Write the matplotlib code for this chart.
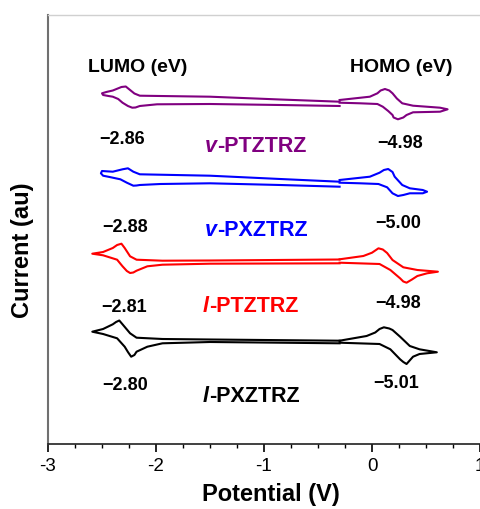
import numpy as np
import matplotlib
matplotlib.use('Agg')
import matplotlib.pyplot as plt
from matplotlib.ticker import MultipleLocator, FuncFormatter

plt.rcParams['font.family'] = 'Liberation Sans'
plt.rcParams['axes.unicode_minus'] = False

# v-PTZTRZ (purple)
ptz_v_red_x = [-0.30, -0.85, -1.50, -1.96, -2.15, -2.20, -2.24, -2.28, -2.32, -2.40, -2.46, -2.50,
               -2.49, -2.44, -2.40, -2.35, -2.31, -2.26, -2.22, -2.19, -2.15, -1.99, -1.50, -0.85, -0.30]
ptz_v_red_i = [342.3, 344.5, 347.3, 348.0, 348.3, 350.5, 354.0, 357.5, 357.0, 353.5, 352.0, 350.7,
               349.0, 348.0, 347.3, 345.0, 341.3, 338.0, 336.3, 336.5, 338.0, 339.7, 340.0, 339.0, 338.0]
ptz_v_ox_x = [-0.30, -0.02, 0.05, 0.08, 0.12, 0.16, 0.19, 0.23, 0.28, 0.38, 0.63, 0.70,
              0.63, 0.38, 0.32, 0.29, 0.24, 0.20, 0.19, 0.15, 0.10, 0.05, -0.11, -0.30]
ptz_v_ox_i = [344.0, 347.3, 350.7, 353.5, 355.0, 353.5, 350.7, 345.5, 340.7, 338.3, 336.3, 334.7,
              332.3, 331.7, 329.0, 326.5, 324.7, 326.5, 329.0, 333.0, 337.3, 340.0, 340.7, 341.3]

# v-PXZTRZ (blue)
pxz_v_red_x = [-0.30, -0.85, -1.50, -2.06, -2.15, -2.21, -2.26, -2.31, -2.40, -2.50, -2.51,
               -2.49, -2.43, -2.33, -2.27, -2.21, -2.18, -2.15, -1.96, -1.50, -0.85, -0.30]
pxz_v_red_i = [262.3, 265.0, 268.3, 269.5, 269.7, 272.3, 275.7, 274.7, 272.3, 273.0, 270.7,
               268.3, 267.0, 264.7, 261.3, 258.3, 258.5, 259.0, 260.0, 260.7, 259.0, 257.3]
pxz_v_ox_x = [-0.30, -0.02, 0.07, 0.11, 0.15, 0.19, 0.21, 0.28, 0.35, 0.47, 0.51,
              0.47, 0.35, 0.29, 0.24, 0.19, 0.14, 0.06, -0.11, -0.30]
pxz_v_ox_i = [264.0, 267.3, 271.3, 274.0, 275.0, 272.0, 267.3, 259.0, 255.7, 254.0, 252.3,
              250.7, 250.7, 249.0, 248.0, 250.7, 256.7, 260.0, 260.7, 261.3]

# l-PTZTRZ (red)
ptz_l_red_x = [-0.30, -1.50, -1.94, -2.18, -2.24, -2.29, -2.32, -2.36, -2.40, -2.49, -2.59,
               -2.49, -2.36, -2.31, -2.27, -2.24, -2.21, -2.18, -2.08, -1.94, -1.50, -0.30]
ptz_l_red_i = [184.5, 183.5, 183.3, 184.3, 187.7, 196.0, 200.3, 199.0, 196.0, 192.0, 190.3,
               188.7, 184.3, 177.7, 173.0, 171.0, 171.5, 173.3, 177.7, 179.3, 180.3, 180.7]
ptz_l_ox_x = [-0.30, -0.08, 0.00, 0.06, 0.10, 0.14, 0.19, 0.29, 0.42, 0.61,
              0.51, 0.42, 0.37, 0.32, 0.29, 0.26, 0.17, 0.07, -0.30]
ptz_l_ox_i = [184.7, 188.0, 191.3, 195.7, 194.5, 191.0, 184.0, 176.7, 174.0, 172.3,
              170.7, 168.0, 164.5, 161.3, 162.5, 165.7, 174.0, 180.0, 181.3]

# l-PXZTRZ (black)
pxz_l_red_x = [-0.30, -1.50, -1.94, -2.18, -2.24, -2.31, -2.34, -2.37, -2.40, -2.49, -2.59,
               -2.49, -2.36, -2.29, -2.26, -2.23, -2.20, -2.18, -2.08, -1.94, -1.50, -0.30]
pxz_l_red_i = [103.3, 104.5, 105.0, 106.3, 110.7, 119.7, 123.5, 122.0, 119.7, 115.0, 112.3,
               110.0, 105.7, 97.3, 92.0, 87.3, 89.0, 92.3, 97.3, 100.7, 102.0, 100.7]
pxz_l_ox_x = [-0.30, -0.05, 0.03, 0.07, 0.11, 0.16, 0.19, 0.26, 0.35, 0.44, 0.60,
              0.44, 0.38, 0.32, 0.29, 0.26, 0.17, 0.07, -0.30]
pxz_l_ox_i = [103.3, 108.0, 111.5, 115.0, 116.7, 115.5, 114.0, 107.3, 98.0, 94.7, 91.7,
              90.0, 87.3, 80.0, 82.0, 84.7, 94.7, 100.0, 101.3]

names = ['PTZTRZ', 'PXZTRZ', 'PTZTRZ', 'PXZTRZ']
prefixes = ['v', 'v', 'l', 'l']
colors = ['#800080', '#0000ff', '#ff0000', '#000000']
lumo = ['\u22122.86', '\u22122.88', '\u22122.81', '\u22122.80']
homo = ['\u22124.98', '\u22125.00', '\u22124.98', '\u22125.01']

curves = [(ptz_v_red_x, ptz_v_red_i, ptz_v_ox_x, ptz_v_ox_i),
          (pxz_v_red_x, pxz_v_red_i, pxz_v_ox_x, pxz_v_ox_i),
          (ptz_l_red_x, ptz_l_red_i, ptz_l_ox_x, ptz_l_ox_i),
          (pxz_l_red_x, pxz_l_red_i, pxz_l_ox_x, pxz_l_ox_i)]

# label positions (x in V, y in au)
lumo_pos = [(-2.31, 304), (-2.29, 216), (-2.30, 137), (-2.29, 59)]
homo_pos = [(0.26, 301), (0.24, 221), (0.24, 140), (0.22, 61)]
name_pos = [(-1.435, 297), (-1.435, 214), (-1.51, 137), (-1.51, 48)]

fig = plt.figure(figsize=(4.8, 5.09), dpi=100)
ax = fig.add_axes([48/480, 65/509, 432/480, 429/509])

for (rx, ri, ox, oi), c in zip(curves, colors):
    ax.plot(rx, ri, color=c, lw=1.5, solid_joinstyle='round')
    ax.plot(ox, oi, color=c, lw=1.5, solid_joinstyle='round')

for k in range(4):
    ax.text(*lumo_pos[k], lumo[k], ha='center', va='center', fontsize=13, fontweight='bold')
    ax.text(*homo_pos[k], homo[k], ha='center', va='center', fontsize=13, fontweight='bold')
    ax.text(*name_pos[k], prefixes[k], ha='right', va='center', fontsize=15.5,
            fontweight='bold', fontstyle='italic', color=colors[k])
    ax.text(*name_pos[k], '-' + names[k], ha='left', va='center', fontsize=15.5,
            fontweight='bold', color=colors[k])

ax.text(-2.17, 377, 'LUMO (eV)', ha='center', va='center', fontsize=14, fontweight='bold')
ax.text(0.27, 377, 'HOMO (eV)', ha='center', va='center', fontsize=14, fontweight='bold')

ax.set_xlim(-3, 1)
ax.set_ylim(0, 429)
ax.xaxis.set_major_locator(MultipleLocator(1))
ax.xaxis.set_minor_locator(MultipleLocator(0.25))
ax.xaxis.set_major_formatter(FuncFormatter(lambda v, p: '%d' % round(v)))
ax.tick_params(axis='x', which='major', length=6, width=1.2, labelsize=13.5, pad=4)
ax.tick_params(axis='x', which='minor', length=3, width=1.0)
ax.set_yticks([])
ax.spines['right'].set_visible(False)
ax.spines['top'].set_color('#d0d0d0')
ax.spines['top'].set_linewidth(1.0)
ax.spines['left'].set_color('#707070')
ax.spines['left'].set_linewidth(1.5)
ax.spines['bottom'].set_color('#202020')
ax.spines['bottom'].set_linewidth(1.2)

fig.text(271/480, 1 - 494/509, 'Potential (V)', ha='center', va='center', fontsize=17, fontweight='bold')
fig.text(22/480, 1 - 250/509, 'Current (au)', ha='center', va='center', fontsize=17,
         fontweight='bold', rotation=90)

fig.savefig('out.png', dpi=100)
